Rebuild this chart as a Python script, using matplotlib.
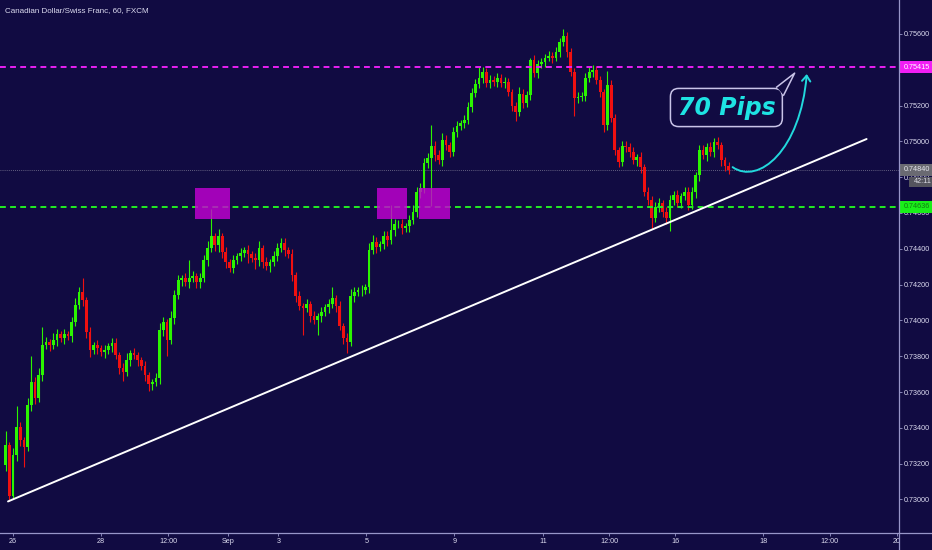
import matplotlib
matplotlib.use("Agg")
import matplotlib.pyplot as plt
from matplotlib.patches import Rectangle, Polygon, FancyArrowPatch
from matplotlib.path import Path
from matplotlib.lines import Line2D
import matplotlib.transforms as mtransforms

# ---------------- data ----------------
TITLE = "Canadian Dollar/Swiss Franc, 60, FXCM"
BAR_START = -2              # index of first candle (2-hour bars, 0 = Aug 26 00:00)
FIRST_OPEN = 0.73190
CLOSE = [
    0.73302, 0.73022, 0.73246, 0.73403, 0.73330, 0.73291, 0.73526, 0.73654, 0.73565, 0.73693,
    0.73861, 0.73878, 0.73861, 0.73889, 0.73923, 0.73900, 0.73923, 0.73911, 0.73990, 0.74085,
    0.74157, 0.74113, 0.73934, 0.73833, 0.73861, 0.73844, 0.73822, 0.73833, 0.73855, 0.73872,
    0.73805, 0.73732, 0.73710, 0.73777, 0.73816, 0.73805, 0.73777, 0.73744, 0.73693, 0.73643,
    0.73654, 0.73677, 0.73945, 0.73990, 0.73889, 0.74012, 0.74141, 0.74224, 0.74236, 0.74213,
    0.74236, 0.74247, 0.74213, 0.74236, 0.74336, 0.74403, 0.74470, 0.74420, 0.74470, 0.74381,
    0.74325, 0.74292, 0.74336, 0.74359, 0.74375, 0.74392, 0.74370, 0.74347, 0.74336, 0.74403,
    0.74325, 0.74303, 0.74325, 0.74359, 0.74403, 0.74431, 0.74392, 0.74370, 0.74252, 0.74135,
    0.74079, 0.74068, 0.74090, 0.74023, 0.74001, 0.74023, 0.74046, 0.74073, 0.74090, 0.74124,
    0.74079, 0.73967, 0.73900, 0.73878, 0.74135, 0.74157, 0.74169, 0.74169, 0.74185, 0.74392,
    0.74437, 0.74409, 0.74426, 0.74470, 0.74448, 0.74504, 0.74538, 0.74538, 0.74515, 0.74526,
    0.74560, 0.74605, 0.74716, 0.74739, 0.74879, 0.74907, 0.74974, 0.74923, 0.74895, 0.75007,
    0.74979, 0.74940, 0.75052, 0.75085, 0.75102, 0.75119, 0.75192, 0.75270, 0.75320, 0.75354,
    0.75387, 0.75326, 0.75343, 0.75331, 0.75354, 0.75326, 0.75331, 0.75275, 0.75197, 0.75164,
    0.75264, 0.75214, 0.75259, 0.75454, 0.75382, 0.75432, 0.75443, 0.75466, 0.75477, 0.75466,
    0.75499, 0.75555, 0.75589, 0.75499, 0.75387, 0.75242, 0.75248, 0.75253, 0.75354, 0.75387,
    0.75399, 0.75343, 0.75275, 0.75091, 0.75315, 0.75130, 0.74951, 0.74884, 0.74974, 0.74968,
    0.74940, 0.74895, 0.74912, 0.74856, 0.74716, 0.74672, 0.74571, 0.74633, 0.74655, 0.74605,
    0.74571, 0.74672, 0.74700, 0.74655, 0.74694, 0.74716, 0.74644, 0.74716, 0.74811, 0.74951,
    0.74923, 0.74968, 0.74940, 0.74996, 0.74979, 0.74895, 0.74862, 0.74840,
]
UPPER_WICK_PIPS = [
    8, 2, 4, 12, 3, 2, 4, 15, 3, 4,
    10, 3, 2, 4, 3, 2, 3, 2, 3, 4,
    3, 8, 2, 3, 2, 3, 2, 3, 2, 3,
    3, 2, 3, 4, 2, 3, 2, 2, 3, 2,
    2, 3, 4, 3, 2, 4, 3, 3, 2, 3,
    10, 3, 2, 3, 3, 4, 15, 2, 4, 2,
    3, 2, 3, 2, 3, 2, 3, 2, 3, 4,
    2, 3, 2, 3, 3, 3, 3, 2, 3, 2,
    3, 2, 3, 2, 3, 2, 3, 2, 3, 6,
    2, 3, 2, 3, 4, 3, 2, 3, 2, 4,
    4, 3, 2, 3, 3, 14, 3, 2, 3, 2,
    3, 4, 3, 3, 3, 3, 12, 3, 3, 4,
    3, 2, 3, 3, 2, 3, 3, 3, 3, 6,
    3, 2, 3, 2, 3, 2, 3, 2, 2, 2,
    4, 3, 2, 1, 3, 2, 2, 2, 3, 2,
    3, 2, 4, 2, 2, 2, 3, 2, 3, 3,
    3, 2, 2, 2, 8, 3, 2, 2, 3, 3,
    2, 3, 2, 3, 2, 3, 2, 3, 3, 2,
    3, 3, 2, 3, 2, 3, 3, 3, 2, 3,
    3, 2, 3, 2, 3, 2, 2, 2,
]
LOWER_WICK_PIPS = [
    3, 3, 2, 3, 3, 11, 2, 3, 3, 2,
    3, 2, 3, 2, 3, 2, 3, 2, 3, 2,
    2, 3, 3, 4, 2, 3, 2, 3, 2, 3,
    2, 3, 5, 2, 3, 2, 3, 2, 3, 4,
    3, 2, 3, 3, 9, 2, 3, 2, 3, 2,
    3, 2, 3, 3, 2, 3, 2, 3, 4, 3,
    3, 2, 3, 2, 3, 2, 5, 2, 5, 3,
    3, 2, 3, 2, 3, 2, 3, 2, 3, 3,
    2, 15, 2, 3, 2, 8, 3, 2, 3, 2,
    3, 2, 3, 6, 2, 3, 2, 3, 2, 3,
    2, 3, 2, 3, 3, 2, 3, 2, 3, 2,
    3, 2, 3, 3, 3, 3, 27, 3, 2, 3,
    3, 3, 2, 3, 2, 3, 2, 3, 2, 2,
    3, 2, 3, 2, 3, 2, 3, 2, 3, 5,
    2, 3, 2, 3, 2, 3, 2, 3, 2, 3,
    2, 3, 2, 3, 2, 10, 3, 2, 3, 2,
    3, 2, 3, 4, 3, 2, 3, 3, 2, 3,
    3, 2, 3, 3, 2, 3, 6, 2, 3, 3,
    3, 7, 3, 2, 3, 2, 3, 2, 3, 3,
    2, 3, 2, 3, 2, 3, 3, 2,
]
XTICK_POS = [0, 24, 42.3, 58.6, 72.3, 96.3, 120.3, 144.5, 162.5, 180.5, 204.5, 222.5, 240.9]
XTICK_LABELS = ["26", "28", "12:00", "Sep", "3", "5", "9", "11", "12:00", "16", "18", "12:00", "20"]
YTICKS = [0.730, 0.732, 0.734, 0.736, 0.738, 0.740, 0.742, 0.744, 0.746, 0.748,
          0.750, 0.752, 0.756]
RESISTANCE = 0.75415
SUPPORT = 0.74636
LAST_PRICE = 0.74840
COUNTDOWN = "42:11"
TREND_X = [-1.36, 232.6]
TREND_Y = [0.72989, 0.75013]
BOX_X = [(49.6, 59.2), (99.3, 107.4), (110.7, 119.2)]
BOX_Y = (0.74565, 0.74740)
CALLOUT_TEXT = "70 Pips"
CALLOUT_POS = (194.4, 0.75189)
CALLOUT_TAIL = [(208.1, 0.75303), (213.0, 0.75381), (210.0, 0.75258)]
ARROW_PTS = [(196.1, 0.74856), (203.2, 0.74755), (214.6, 0.74951), (216.3, 0.75376)]

# ---------------- style ----------------
BG = "#110b42"
AXC = "#9896c9"
TXT = "#dcdbf0"
UP = "#2bf500"
DOWN = "#f01010"
FONT = ["Liberation Sans", "DejaVu Sans"]
PIP = 0.0001

W, H = 932, 550
AX_W, AX_B = 898.5, 532.5   # axis edges in pixels

fig = plt.figure(figsize=(W / 100, H / 100), dpi=100, facecolor=BG)
ax = fig.add_axes([0, (H - AX_B) / H, AX_W / W, AX_B / H])
ax.set_facecolor(BG)
ax.set_xlim(-3.545, 241.3)
ax.set_ylim(0.728155, 0.757894)
for s in ax.spines.values():
    s.set_visible(False)

# candles
opens = [FIRST_OPEN] + CLOSE[:-1]
for k, (o, c) in enumerate(zip(opens, CLOSE)):
    x = BAR_START + k
    col = UP if c >= o else DOWN
    lo_b, hi_b = min(o, c), max(o, c)
    hi = hi_b + UPPER_WICK_PIPS[k] * PIP
    lo = lo_b - LOWER_WICK_PIPS[k] * PIP
    ax.vlines(x, lo, hi, color=col, lw=0.8, zorder=3)
    ax.bar(x, max(hi_b - lo_b, 0.00003), bottom=lo_b, width=0.74,
           color=col, linewidth=0, zorder=3)

# horizontal lines
ax.axhline(LAST_PRICE, color="#7d7b95", lw=0.6, ls=(0, (1, 1.5)), zorder=2)
ax.axhline(RESISTANCE, color="#e81ff2", lw=1.4, ls=(0, (3, 2.2)), zorder=4)
ax.axhline(SUPPORT, color="#22ee22", lw=1.4, ls=(0, (3, 2.2)), zorder=4)

# trend line
ax.plot(TREND_X, TREND_Y, color="white", lw=1.4, zorder=4, solid_capstyle="round")

# support boxes
for x0, x1 in BOX_X:
    ax.add_patch(Rectangle((x0, BOX_Y[0]), x1 - x0, BOX_Y[1] - BOX_Y[0],
                           facecolor="#c800d6", alpha=0.8, linewidth=0, zorder=5))

# callout
ax.text(CALLOUT_POS[0], CALLOUT_POS[1], CALLOUT_TEXT, fontsize=17, fontweight="bold",
        fontstyle="italic", color="#1ee3e3", ha="center", va="center", zorder=7,
        family="DejaVu Sans",
        bbox=dict(boxstyle="round,pad=0.3,rounding_size=0.35", fc=BG, ec="#c9c4e8", lw=1.1))
ax.add_patch(Polygon(CALLOUT_TAIL, closed=True, facecolor=BG, edgecolor="none", zorder=8))
ax.plot([CALLOUT_TAIL[0][0], CALLOUT_TAIL[1][0], CALLOUT_TAIL[2][0]],
        [CALLOUT_TAIL[0][1], CALLOUT_TAIL[1][1], CALLOUT_TAIL[2][1]],
        color="#c9c4e8", lw=1.1, zorder=9)

# curved arrow
arrow_path = Path(ARROW_PTS, [Path.MOVETO, Path.CURVE4, Path.CURVE4, Path.CURVE4])
ax.add_patch(FancyArrowPatch(path=arrow_path, arrowstyle="->,head_length=4,head_width=3",
                             color="#22d8dc", lw=1.4, zorder=6, transform=ax.transData))

# axes ticks
ax.yaxis.tick_right()
ax.set_yticks(YTICKS)
ax.set_yticklabels([f"{v:.5f}" for v in YTICKS])
ax.set_xticks(XTICK_POS)
ax.set_xticklabels(XTICK_LABELS)
ax.tick_params(axis="y", direction="out", length=2.5, width=0.6, color=AXC,
               labelsize=5.2, labelcolor=TXT, pad=1.2)
ax.tick_params(axis="x", direction="out", length=1.8, width=0.6, color=AXC,
               labelsize=5.2, labelcolor=TXT, pad=2.5)
for lab in ax.get_xticklabels() + ax.get_yticklabels():
    lab.set_family(FONT)

# price labels on scale
blend = mtransforms.blended_transform_factory(ax.transAxes, ax.transData)
px_y = (ax.get_ylim()[1] - ax.get_ylim()[0]) / AX_B   # price per pixel
xr = W / AX_W


def price_tag(price, text, fc, tc, y_off=0.0, x0=1.0, hpx=12):
    h = hpx * px_y
    ax.add_patch(Rectangle((x0, price - h / 2 - y_off), xr - x0, h, transform=blend,
                           facecolor=fc, edgecolor="none", clip_on=False, zorder=20))
    ax.text(x0 + 5 / AX_W, price - y_off, text, transform=blend, fontsize=5.2,
            color=tc, ha="left", va="center", family=FONT, clip_on=False, zorder=21)


price_tag(RESISTANCE, f"{RESISTANCE:.5f}", "#f21ef5", "white")
price_tag(SUPPORT, f"{SUPPORT:.5f}", "#19ef19", "#137a13")
price_tag(LAST_PRICE, f"{LAST_PRICE:.5f}", "#6a6a72", "#e6e6ee")
price_tag(LAST_PRICE, COUNTDOWN, "#55555e", "#dddde6", y_off=12 * px_y,
          x0=1.0 + 10 / AX_W, hpx=10)

# title
fig.text(5 / W, 1 - 11 / H, TITLE, fontsize=5.8, color=TXT, ha="left", va="center",
         family=FONT)

# cover the time-scale corner under the price scale, then the scale lines
fig.add_artist(Rectangle((AX_W / W, 0), 1 - AX_W / W, (H - AX_B) / H,
                         transform=fig.transFigure, facecolor=BG, edgecolor="none",
                         zorder=5))
fig.add_artist(Line2D([AX_W / W, AX_W / W], [0, 1], transform=fig.transFigure,
                      color=AXC, lw=0.9, zorder=6))
fig.add_artist(Line2D([0, 1], [(H - AX_B) / H] * 2, transform=fig.transFigure,
                      color=AXC, lw=0.9, zorder=6))

fig.savefig("out.png", dpi=100, facecolor=BG)
